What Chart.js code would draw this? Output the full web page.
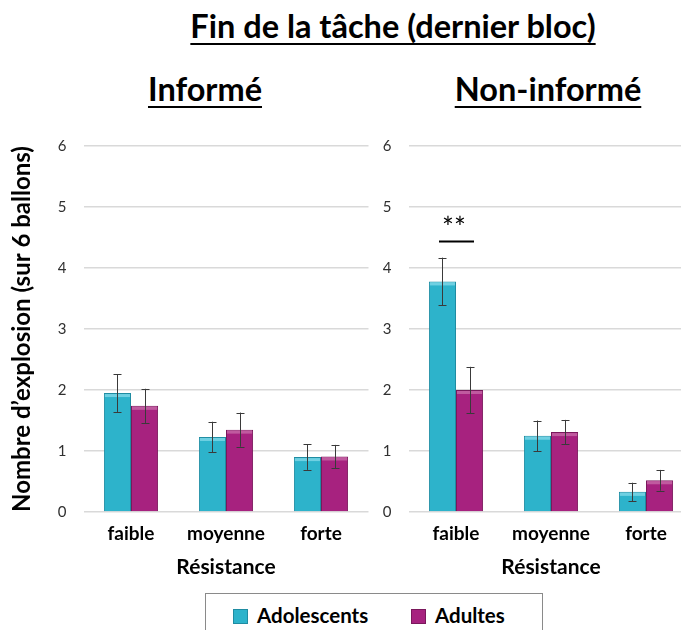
<!DOCTYPE html>
<html>
<head>
<meta charset="utf-8">
<script src="https://cdn.jsdelivr.net/npm/chart.js@4.4.0/dist/chart.umd.min.js"></script>
<style>
    html, body {
        margin: 0;
        padding: 0;
        background: #ffffff;
        width: 681px;
        height: 630px;
        overflow: hidden;
        position: relative;
        font-family: Lato, "Open Sans", sans-serif;
    }

    .heading {
        position: absolute;
        font-weight: bold;
        color: #000000;
        white-space: nowrap;
        text-decoration: underline;
        text-decoration-thickness: 2px;
        text-underline-offset: 5px;
        transform: translateX(-50%);
    }

    .panel {
        position: absolute;
        top: 120px;
        height: 460px;
    }

    #legend {
        position: absolute;
        left: 205px;
        top: 593px;
        width: 338px;
        height: 50px;
        border: 1.5px solid #8a8a8a;
        box-sizing: border-box;
    }

    .legend_item {
        position: absolute;
        top: 9px;
        font-weight: bold;
        font-size: 20.5px;
        color: #000000;
        white-space: nowrap;
        line-height: 24px;
    }

    .legend_swatch {
        display: inline-block;
        width: 15px;
        height: 15px;
        margin-right: 9px;
        vertical-align: -1px;
    }
</style>
</head>
<body>

<div class="heading" style="left: 393px; top: 6px; font-size: 32.5px;">Fin de la tâche (dernier bloc)</div>
<div class="heading" style="left: 205px; top: 69px; font-size: 32.5px;">Informé</div>
<div class="heading" style="left: 548px; top: 69px; font-size: 32.5px;">Non-informé</div>

<div class="panel" style="left: 0px; width: 372px;"><canvas id="chart_informed" width="372" height="460"></canvas></div>
<div class="panel" style="left: 340px; width: 360px;"><canvas id="chart_uninformed" width="360" height="460"></canvas></div>

<div id="legend"></div>

<script>
// Resistance levels on the x axis
var categories = ["faible", "moyenne", "forte"];
var y_ticks = [0, 1, 2, 3, 4, 5, 6];

var series_names = ["Adolescents", "Adultes"];
var series_colors = ["#2db3cb", "#a7227f"];
var series_borders = ["#1f8ca2", "#7a185c"];
var series_highlights = ["#6fd0e2", "#c05a9f"];

// Informé group: mean explosions and standard error
var informed_ado = [1.95, 1.23, 0.90];
var informed_ado_err = [0.31, 0.25, 0.21];
var informed_adult = [1.74, 1.35, 0.91];
var informed_adult_err = [0.28, 0.28, 0.19];

// Non-informé group
var uninformed_ado = [3.78, 1.25, 0.33];
var uninformed_ado_err = [0.39, 0.25, 0.15];
var uninformed_adult = [2.00, 1.31, 0.52];
var uninformed_adult_err = [0.38, 0.20, 0.17];

// Significance brackets: category, line level, label
var uninformed_marks = [{"category": "faible", "level": 4.45, "label": "**"}];

var grid_color = "#d9d9d9";
var font_family = "Lato, 'Open Sans', sans-serif";

// Draws a light top edge on each bar, then the error bars over it
var bar_decor_plugin = {
    "id": "bar_decor",
    "afterDatasetsDraw": function (chart) {
        var ctx = chart.ctx;
        var y_scale = chart.scales.y;

        ctx.save();

        chart.data.datasets.forEach(function (dataset, i) {
            var meta = chart.getDatasetMeta(i);

            meta.data.forEach(function (bar) {
                var left = bar.x - bar.width / 2;

                ctx.fillStyle = series_highlights[i];
                ctx.fillRect(left + 1, bar.y + 1, bar.width - 2, 3);
            });
        });

        chart.data.datasets.forEach(function (dataset, i) {
            var meta = chart.getDatasetMeta(i);

            meta.data.forEach(function (bar, j) {
                var value = dataset.data[j];
                var err = dataset.errors[j];
                var top = y_scale.getPixelForValue(value + err);
                var bottom = y_scale.getPixelForValue(value - err);
                var x = Math.round(bar.x) + 0.5;

                ctx.strokeStyle = "#3a3a3a";
                ctx.lineWidth = 1;
                ctx.beginPath();
                ctx.moveTo(x, top);
                ctx.lineTo(x, bottom);
                ctx.moveTo(x - 4, Math.round(top) + 0.5);
                ctx.lineTo(x + 4, Math.round(top) + 0.5);
                ctx.moveTo(x - 4, Math.round(bottom) + 0.5);
                ctx.lineTo(x + 4, Math.round(bottom) + 0.5);
                ctx.stroke();
            });
        });

        var marks = chart.options.plugins.bar_decor.marks || [];

        marks.forEach(function (mark) {
            var x = chart.scales.x.getPixelForValue(categories.indexOf(mark.category));
            var y = Math.round(y_scale.getPixelForValue(mark.level)) + 0.5;

            ctx.strokeStyle = "#000000";
            ctx.lineWidth = 2;
            ctx.beginPath();
            ctx.moveTo(x - 17, y);
            ctx.lineTo(x + 18, y);
            ctx.stroke();

            ctx.fillStyle = "#000000";
            ctx.font = "28px " + font_family;
            ctx.textAlign = "center";
            ctx.textBaseline = "middle";
            ctx.fillText(mark.label, x - 2, y - 13);
        });

        ctx.restore();
    }
};

function make_datasets (ado, ado_err, adult, adult_err) {
    var values = [ado, adult];
    var errors = [ado_err, adult_err];

    return series_names.map(function (name, i) {
        return {
            "label": name,
            "data": values[i],
            "errors": errors[i],
            "backgroundColor": series_colors[i],
            "borderColor": series_borders[i],
            "borderWidth": 1,
            "categoryPercentage": 0.57,
            "barPercentage": 1.0
        };
    });
}

function make_chart (canvas_id, datasets, axis_width, pad_right, show_title, marks) {
    return new Chart(document.getElementById(canvas_id), {
        "type": "bar",
        "data": {
            "labels": categories,
            "datasets": datasets
        },
        "options": {
            "responsive": false,
            "animation": false,
            "layout": {
                "padding": {"top": 5, "right": pad_right, "bottom": 0, "left": 0}
            },
            "scales": {
                "y": {
                    "min": 0,
                    "max": 6,
                    "afterBuildTicks": function (scale) {
                        scale.ticks = y_ticks.map(function (v) { return {"value": v}; });
                    },
                    "afterFit": function (scale) {
                        scale.width = axis_width;
                    },
                    "grid": {
                        "color": grid_color,
                        "lineWidth": 1.5,
                        "drawTicks": false
                    },
                    "border": {"display": false},
                    "ticks": {
                        "color": "#303030",
                        "padding": 17,
                        "font": {"family": font_family, "size": 15}
                    },
                    "title": {
                        "display": show_title,
                        "text": "Nombre d’explosion (sur 6 ballons)",
                        "color": "#000000",
                        "padding": {"top": 8, "bottom": 0},
                        "font": {"family": font_family, "size": 24, "weight": "bold"}
                    }
                },
                "x": {
                    "afterFit": function (scale) {
                        scale.height = 68;
                    },
                    "grid": {"display": false},
                    "border": {"display": false},
                    "ticks": {
                        "color": "#000000",
                        "padding": 2,
                        "font": {"family": font_family, "size": 19, "weight": "bold"}
                    },
                    "title": {
                        "display": true,
                        "text": "Résistance",
                        "color": "#000000",
                        "padding": {"top": 0, "bottom": 0},
                        "font": {"family": font_family, "size": 21, "weight": "bold"}
                    }
                }
            },
            "plugins": {
                "legend": {"display": false},
                "tooltip": {"enabled": false},
                "title": {"display": false},
                "bar_decor": {"marks": marks}
            }
        },
        "plugins": [bar_decor_plugin]
    });
}

make_chart(
    "chart_informed",
    make_datasets(informed_ado, informed_ado_err, informed_adult, informed_adult_err),
    83.5, 3.5, true, []
);

make_chart(
    "chart_uninformed",
    make_datasets(uninformed_ado, uninformed_ado_err, uninformed_adult, uninformed_adult_err),
    68.5, 6.5, false, uninformed_marks
);

// Shared legend below both panels
var legend = document.getElementById("legend");
var legend_offsets = [27, 205];

series_names.forEach(function (name, i) {
    var item = document.createElement("div");
    var swatch = document.createElement("span");

    item.className = "legend_item";
    item.style.left = legend_offsets[i] + "px";

    swatch.className = "legend_swatch";
    swatch.style.background = series_colors[i];
    swatch.style.border = "1px solid " + series_borders[i];
    swatch.style.boxSizing = "border-box";

    item.appendChild(swatch);
    item.appendChild(document.createTextNode(name));
    legend.appendChild(item);
});
</script>
</body>
</html>
